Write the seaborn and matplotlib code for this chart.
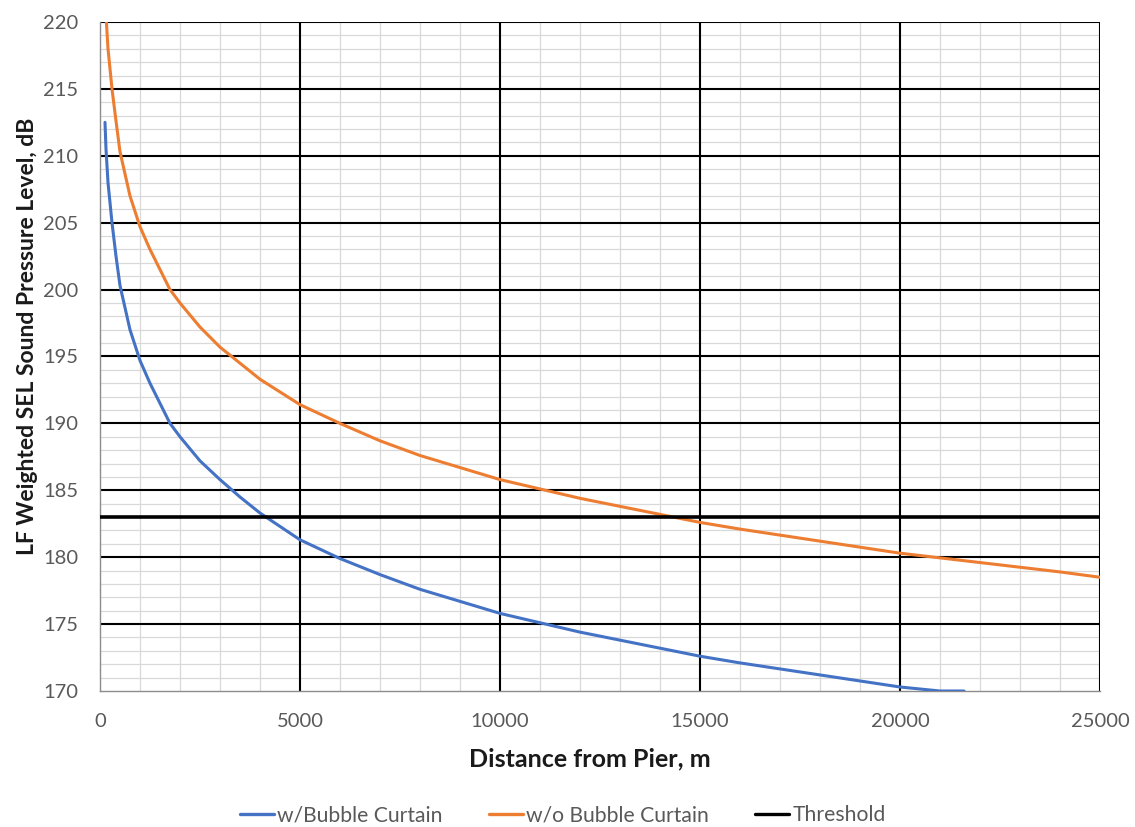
import matplotlib
matplotlib.use("Agg")
import matplotlib.pyplot as plt
from matplotlib.ticker import FixedLocator
import numpy as np
import pandas as pd
import seaborn as sns

# Received LF-weighted SEL versus range from the pier
dist_with = [125, 150, 200, 300, 400, 500, 750, 1000, 1250, 1500, 1750, 2000,
             2500, 3000, 3500, 4000, 5000, 6000, 7000, 8000, 9000, 10000,
             12000, 14000, 15000, 16000, 18000, 20000, 21000, 21600]
sel_with = [212.5, 210.5, 208.0, 205.0, 202.5, 200.3, 197.0, 194.7, 193.0,
            191.5, 190.0, 189.0, 187.2, 185.8, 184.5, 183.3, 181.3, 179.9,
            178.7, 177.6, 176.7, 175.8, 174.4, 173.2, 172.6, 172.1, 171.2,
            170.3, 170.0, 170.0]

dist_without = [125, 150, 200, 300, 400, 500, 750, 1000, 1250, 1500, 1750,
                2000, 2500, 3000, 3500, 4000, 5000, 6000, 7000, 8000, 9000,
                10000, 12000, 14000, 15000, 16000, 18000, 20000, 22000,
                24000, 25000]
sel_without = [222.5, 220.5, 218.0, 215.0, 212.6, 210.3, 207.0, 204.7, 203.0,
               201.5, 200.0, 199.0, 197.2, 195.7, 194.5, 193.3, 191.4, 190.0,
               188.7, 187.6, 186.7, 185.8, 184.4, 183.2, 182.6, 182.1, 181.2,
               180.3, 179.6, 178.9, 178.5]

threshold_db = 183
threshold_dist = [0, 25000]

series_names = ["w/Bubble Curtain", "w/o Bubble Curtain", "Threshold"]
series_colors = ["#4472C4", "#ED7D31", "#000000"]

x_ticks = [0, 5000, 10000, 15000, 20000, 25000]
y_ticks = [170, 175, 180, 185, 190, 195, 200, 205, 210, 215, 220]

df = pd.concat([
    pd.DataFrame({"dist": dist_with, "sel": sel_with, "series": series_names[0]}),
    pd.DataFrame({"dist": dist_without, "sel": sel_without, "series": series_names[1]}),
    pd.DataFrame({"dist": threshold_dist, "sel": [threshold_db] * 2, "series": series_names[2]}),
], ignore_index=True)

sns.set_theme(style="white")
plt.rcParams["font.family"] = ["Lato", "DejaVu Sans"]

W, H = 1135, 827
fig = plt.figure(figsize=(W / 100, H / 100), dpi=100)
ax = fig.add_axes([100 / W, 1 - 691 / H, 1000 / W, 669 / H])

# light minor grid between the black major lines
minor_x = [v for v in range(0, 25001, 1000) if v % 5000]
minor_y = [v for v in range(170, 221) if v % 5]
ax.xaxis.set_minor_locator(FixedLocator(minor_x))
ax.yaxis.set_minor_locator(FixedLocator(minor_y))
ax.grid(which="minor", color="#d9d9d9", linewidth=0.9)
ax.set_axisbelow(True)

# black major grid, kept above the light minor grid
for xv in x_ticks[1:]:
    ax.axvline(xv, color="#000000", linewidth=1.5, zorder=1)
for yv in y_ticks[1:]:
    ax.axhline(yv, color="#000000", linewidth=1.5, zorder=1)

sns.lineplot(data=df, x="dist", y="sel", hue="series", hue_order=series_names,
             palette=series_colors, linewidth=2.2, sort=False, ax=ax,
             estimator=None, legend=False, zorder=3)
ax.lines[-1].set_linewidth(2.6)

ax.set_xlim(0, 25000)
ax.set_ylim(170, 220)
ax.set_xticks(x_ticks)
ax.set_yticks(y_ticks)
ax.tick_params(which="both", length=0, labelsize=14.5, labelcolor="#595959")
ax.tick_params(axis="y", pad=15.5)
ax.tick_params(axis="x", pad=16)

for side in ["left", "bottom"]:
    ax.spines[side].set_color("#8c8c8c")
    ax.spines[side].set_linewidth(1.0)
for side in ["top", "right"]:
    ax.spines[side].set_visible(False)

ax.set_xlabel("Distance from Pier, m", fontsize=16, fontweight="bold",
              color="#1a1a1a", va="center")
ax.set_ylabel("LF Weighted SEL Sound Pressure Level, dB", fontsize=16,
              fontweight="bold", color="#1a1a1a", va="center", ha="center")
ax.xaxis.set_label_coords((590 - 100) / 1000, (691 - 759) / 669)
ax.yaxis.set_label_coords((28 - 100) / 1000, (691 - 336) / 669)

handles = [plt.Line2D([], [], color=c, linewidth=2.4) for c in series_colors]
leg = fig.legend(handles, series_names, loc="center",
                 bbox_to_anchor=(563 / W, 1 - 815 / H), ncol=3, frameon=False,
                 fontsize=15.2, handlelength=1.6, handletextpad=0.15,
                 columnspacing=2.2, labelcolor="#595959")

# size the axis titles to their set widths
fig.canvas.draw()
r = fig.canvas.get_renderer()
xl = ax.xaxis.label
xl.set_fontsize(xl.get_fontsize() * 242 / xl.get_window_extent(r).width)
yl = ax.yaxis.label
yl.set_fontsize(yl.get_fontsize() * 438 / yl.get_window_extent(r).height)

fig.savefig("out.png", dpi=100)
